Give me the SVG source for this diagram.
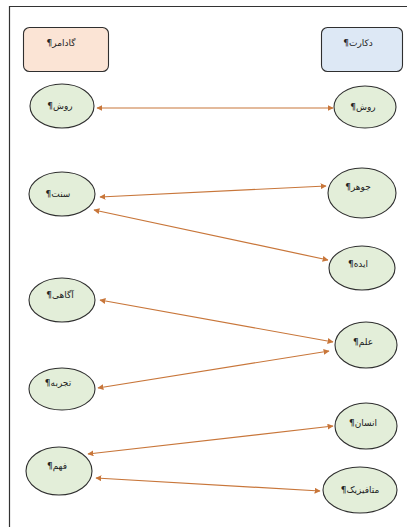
<svg xmlns="http://www.w3.org/2000/svg" width="407" height="527" viewBox="0 0 407 527">
<style>
.lbl{font-family:"DejaVu Sans","Noto Sans",sans-serif;font-size:9px;fill:#222;text-anchor:middle;direction:rtl;unicode-bidi:embed}
.node ellipse{fill:#e3eed9;stroke:#2f2f2f;stroke-width:1.1}
.box{stroke:#2f2f2f;stroke-width:1.1}
.con line{stroke:#c8763a;stroke-width:1.2;marker-start:url(#ah);marker-end:url(#ah)}
</style>
<defs>
<marker id="ah" viewBox="0 0 10 10" refX="9" refY="5" markerWidth="6" markerHeight="6" markerUnits="userSpaceOnUse" orient="auto-start-reverse">
<path d="M0,0 L10,5 L0,10 z" fill="#c8763a"/>
</marker>
</defs>
<rect width="407" height="527" fill="#fff"/>
<polyline points="9.5,527 9.5,6.5 407,6.5" fill="none" stroke="#333" stroke-width="1.2"/>
<g id="gadamer"><rect class="box" x="23.5" y="27.5" width="85" height="44" rx="6" fill="#fbe4d5"/><text class="lbl" x="61" y="46">گادامر¶</text></g>
<g id="descartes"><rect class="box" x="321.5" y="27.5" width="81" height="44" rx="6" fill="#dde8f5"/><text class="lbl" x="358" y="46">دکارت¶</text></g>
<g id="ravesh-l" class="node"><ellipse cx="62" cy="106" rx="32" ry="22"/><text class="lbl" x="60" y="109">روش¶</text></g>
<g id="ravesh-r" class="node"><ellipse cx="365" cy="107" rx="31" ry="21"/><text class="lbl" x="363" y="110">روش¶</text></g>
<g id="sonnat" class="node"><ellipse cx="62" cy="194" rx="33" ry="22"/><text class="lbl" x="58" y="197">سنت¶</text></g>
<g id="johar" class="node"><ellipse cx="362" cy="193" rx="34" ry="25"/><text class="lbl" x="358" y="190">جوهر¶</text></g>
<g id="ideh" class="node"><ellipse cx="362" cy="268" rx="33" ry="22"/><text class="lbl" x="358" y="267">ایده¶</text></g>
<g id="agahi" class="node"><ellipse cx="62" cy="300" rx="33" ry="22"/><text class="lbl" x="60" y="298">آگاهی¶</text></g>
<g id="elm" class="node"><ellipse cx="366" cy="345" rx="31" ry="23"/><text class="lbl" x="363" y="345">علم¶</text></g>
<g id="tajrobeh" class="node"><ellipse cx="62" cy="389" rx="33" ry="21"/><text class="lbl" x="58" y="386">تجربه¶</text></g>
<g id="ensan" class="node"><ellipse cx="366" cy="426" rx="31" ry="23"/><text class="lbl" x="363" y="426">انسان¶</text></g>
<g id="fahm" class="node"><ellipse cx="59" cy="471" rx="33" ry="24"/><text class="lbl" x="57" y="469">فهم¶</text></g>
<g id="metafizik" class="node"><ellipse cx="360" cy="490" rx="37" ry="23"/><text class="lbl" x="360" y="493">متافیزیک¶</text></g>
<g id="connectors" class="con">
<line x1="97" y1="108" x2="333" y2="108"/>
<line x1="100" y1="197" x2="326" y2="186"/>
<line x1="94" y1="210" x2="328" y2="260"/>
<line x1="100" y1="300" x2="333" y2="342"/>
<line x1="98" y1="388" x2="329" y2="351"/>
<line x1="88" y1="454" x2="333" y2="426"/>
<line x1="96" y1="478" x2="320" y2="491"/>
</g>
</svg>
